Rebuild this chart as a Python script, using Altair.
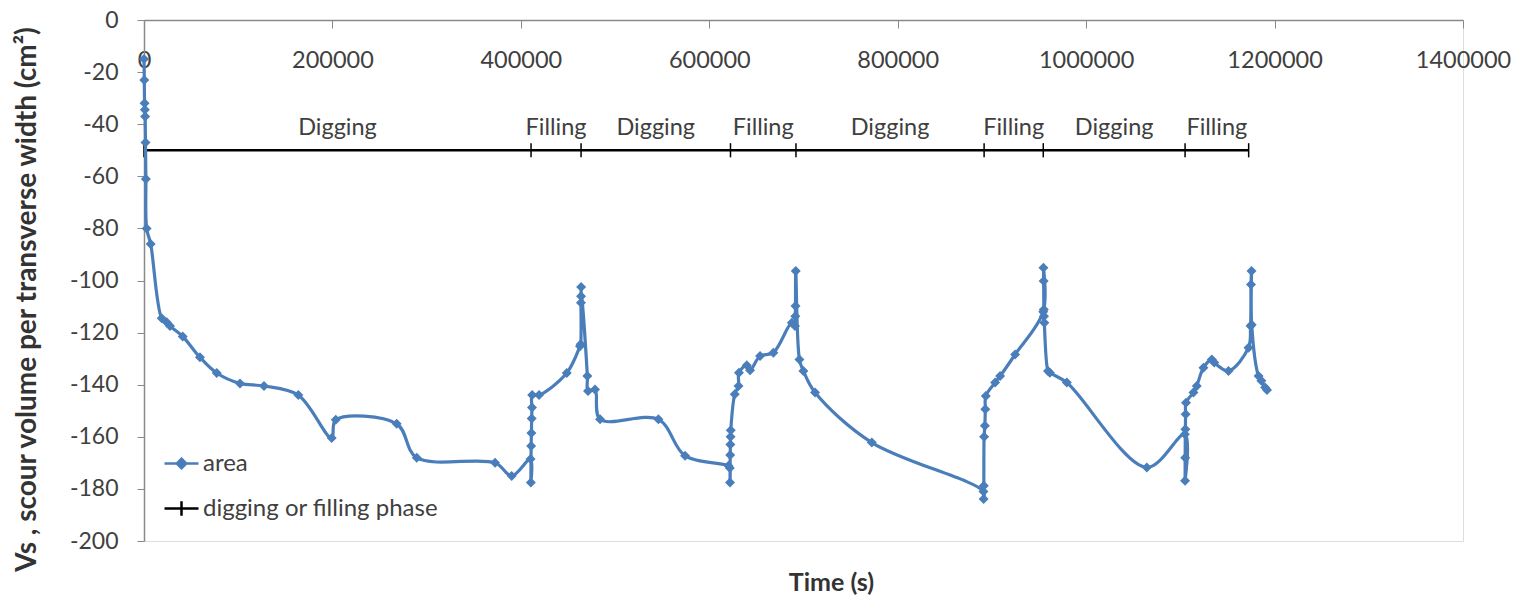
import altair as alt
import pandas as pd

# ---- data ----
time_s = [0, 300, 600, 900, 1200, 1600, 2000, 2800, 7100, 18800, 24100, 27600, 41100,
          59400, 77200, 101900, 127400, 163800, 199200, 203500, 268200, 289500, 372600,
          390300,
          410300, 410600, 410900, 411200, 411500, 411800, 412000, 419300, 448700, 462800,
          463500, 463800, 463900, 464000, 470600, 471300, 478700, 484100, 546000, 574300,
          620300,
          621800, 622000, 622200, 622400, 622600, 622800, 627000, 631000, 631500, 639800,
          643300, 653900, 668000, 687600, 691000, 691300, 691500, 691800, 695700, 699900,
          712300, 772500,
          891000, 891200, 891400, 891700, 892500, 893000, 893500, 903400, 908700, 924600,
          954400, 954700, 954900, 955100, 955300, 955600, 959500, 961500, 979500, 1064400,
          1104800, 1105000, 1105100, 1105300, 1105600, 1106000, 1113900, 1117400, 1124500,
          1133400, 1136000, 1151100, 1172300, 1174500, 1175000, 1175500, 1175700, 1183000,
          1186000, 1190000, 1192000]
area = [-15, -23, -32, -34.5, -37, -47, -61, -80, -86, -114.5, -116, -117.5, -121.5,
        -129.5, -135.5, -139.5, -140.5, -144, -160.5, -153.5, -155, -168, -170,
        -175,
        -168.5, -177.5, -163.5, -158.5, -153, -148.8, -144, -144, -135.5, -125.2,
        -124.5, -108.5, -106, -102.5, -136.7, -142.4, -141.8, -153.3, -153.3, -167.3,
        -171.1,
        -172, -177.5, -167, -163, -160, -157.5, -143.7, -140.5, -135.4, -132.5,
        -134.5, -129, -127.7, -116.2, -117.5, -113.7, -109.8, -96.4, -130.3, -134.7,
        -143, -162.2,
        -181, -183.9, -178.8, -160, -155.8, -149.4, -144.3, -139.2, -136.7, -128.4,
        -112, -95.1, -100.2, -111.1, -113.7, -116.2, -134.7, -135.4, -139.2, -171.8,
        -159, -176.9, -168, -157.1, -151.3, -146.9, -143, -140.5, -133.5,
        -130.3, -131.5, -134.7, -125.8, -117.5, -101.5, -96.4, -117, -136.7,
        -138.5, -141.1, -142]

phase_t = [0, 410800, 463900, 622500, 692000, 891700, 954500, 1105000, 1172500]
phase_level = -50
phase_labels = ["Digging", "Filling", "Digging", "Filling",
                "Digging", "Filling", "Digging", "Filling"]
label_level = -44

series_names = ["area", "digging or filling phase"]

x_ticks = list(range(0, 1400001, 200000))
y_ticks = list(range(-200, 1, 20))

# ---- tables ----
df_area = pd.DataFrame({"t": time_s, "v": area})
df_phase = pd.DataFrame({"t": phase_t, "v": [phase_level] * len(phase_t)})
mids = [(a + b) / 2 for a, b in zip(phase_t[:-1], phase_t[1:])]
df_lab = pd.DataFrame({"t": mids, "v": [label_level] * len(mids), "label": phase_labels})
df_leg = pd.DataFrame({"series": series_names})

BLUE = "#4A7EBB"
FONT = "Lato"
W, H = 1319, 521

xscale = alt.Scale(domain=[0, 1400000], nice=False, zero=False)
yscale = alt.Scale(domain=[-200, 0], nice=False)

xaxis = alt.Axis(orient="bottom", offset=-H, values=x_ticks, format="d",
                 labelFont=FONT, labelFontSize=23.5, labelColor="#404040",
                 labelFlush=False, labelOverlap=False, labelPadding=20,
                 tickSize=8, tickColor="#8a8a8a", domainColor="#8a8a8a", domainWidth=1.5,
                 grid=False, title="Time (s)", titleFont=FONT, titleFontSize=25,
                 titleFontWeight="bold", titleColor="#333333",
                 titleX=687, titleY=570, titleBaseline="alphabetic", titleAlign="center")
yaxis = alt.Axis(values=y_ticks, labelExpr="'' + datum.value",
                 labelFont=FONT, labelFontSize=23, labelColor="#404040",
                 labelPadding=19, tickSize=7, tickColor="#8a8a8a",
                 domainColor="#8a8a8a", domainWidth=1.5, grid=False,
                 title="Vs , scour volume per transverse width (cm²)",
                 titleFont=FONT, titleFontSize=28, titleFontWeight="bold",
                 titleColor="#333333", titleX=-117, titleY=279,
                 titleBaseline="middle", titleAngle=270, titleLimit=0)

X = alt.X("t:Q", scale=xscale, axis=xaxis)
Y = alt.Y("v:Q", scale=yscale, axis=yaxis)

area_line = alt.Chart(df_area).mark_line(color=BLUE, strokeWidth=3.2,
                                          interpolate="catmull-rom").encode(
    x=X, y=Y, order="idx:Q").transform_window(idx="row_number()")
area_pts = alt.Chart(df_area).mark_point(shape="diamond", filled=True, color=BLUE,
                                         size=100, opacity=1).encode(x=X, y=Y)

phase_line = alt.Chart(df_phase).mark_line(color="black", strokeWidth=2.5).encode(x=X, y=Y)
phase_pts = alt.Chart(df_phase).mark_point(shape="M0,-1L0,1", filled=False,
                                           color="black", strokeWidth=1.5,
                                           size=200, opacity=1).encode(x=X, y=Y)

labels = alt.Chart(df_lab).mark_text(font=FONT, fontSize=23.5, color="#404040",
                                     baseline="alphabetic", align="center").encode(
    x=X, y=Y, text="label:N")

leg_domain = series_names
leg_shapes = ["M-1,0L1,0M0,-0.28L0.28,0L0,0.28L-0.28,0Z", "M-1,0L1,0M0,-0.42L0,0.42"]
leg_colors = [BLUE, "black"]
legend = alt.Legend(title=None, orient="none", legendX=19, legendY=425,
                    labelFont=FONT, labelFontSize=24, labelColor="#404040",
                    symbolSize=1156, symbolStrokeWidth=2.5, labelOffset=3,
                    labelLimit=0, rowPadding=14, padding=0, symbolOpacity=1)
legend_layer = alt.Chart(df_leg).mark_point(filled=True, opacity=1).encode(
    shape=alt.Shape("series:N", scale=alt.Scale(domain=leg_domain, range=leg_shapes),
                    legend=legend),
    fill=alt.Fill("series:N", scale=alt.Scale(domain=leg_domain, range=leg_colors),
                  legend=legend),
    stroke=alt.Stroke("series:N", scale=alt.Scale(domain=leg_domain, range=leg_colors),
                      legend=legend),
).transform_filter("false")

chart = alt.layer(phase_line, phase_pts, labels, area_line, area_pts, legend_layer).properties(
    width=W, height=H,
    autosize=alt.AutoSizeParams(type="none"),
    padding={"left": 136, "top": 12, "right": 49, "bottom": 55},
).configure_view(stroke="#a0a0a0", strokeWidth=1.5).configure(background="white")

chart.save("out.html", embed_options={"renderer": "svg", "actions": False})
